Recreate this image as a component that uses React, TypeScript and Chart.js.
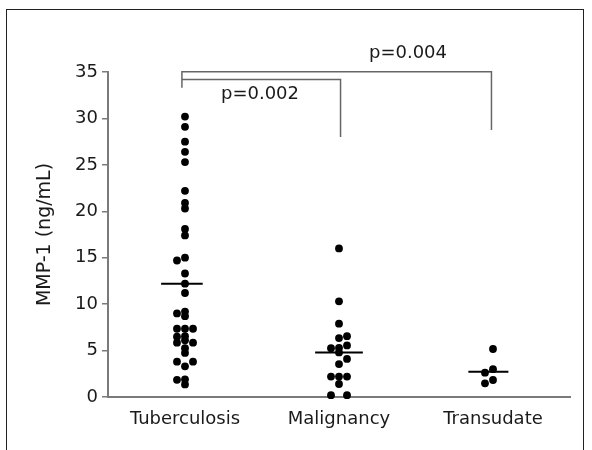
import React, { useEffect, useRef } from "react";
import { Chart, registerables } from "chart.js";

Chart.register(...registerables);

// ---- data ----
const categories = ["Tuberculosis", "Malignancy", "Transudate"];

const tuberculosisValues = [
  30.2, 29.1, 27.5, 26.4, 25.3, 22.2, 20.9, 20.3, 18.1, 17.4, 15.0, 14.7, 13.3,
  12.2, 11.2, 9.2, 8.7, 9.0, 7.35, 7.35, 7.35, 6.5, 6.55, 6.1, 5.85, 5.85, 5.25,
  4.75, 3.8, 3.8, 3.3, 1.85, 1.9, 1.35,
];
const tuberculosisSlots = [
  0, 0, 0, 0, 0, 0, 0, 0, 0, 0, 0, -1, 0, 0, 0, 0, 0, -1, -1, 0, 1, -1, 0, 0, -1,
  1, 0, 0, -1, 1, 0, -1, 0, 0,
];

const malignancyValues = [
  16.0, 10.3, 7.9, 6.55, 6.35, 5.55, 5.25, 5.3, 4.8, 4.1, 3.55, 2.2, 2.2, 2.2,
  1.4, 0.2, 0.2,
];
const malignancySlots = [0, 0, 0, 1, 0, 1, -1, 0, 0, 1, 0, -1, 0, 1, 0, -1, 1];

const transudateValues = [5.17, 3.0, 2.62, 1.83, 1.47];
const transudateSlots = [0, 0, -1, 0, -1];

const meanValues = [12.2, 4.8, 2.73];

const yTickMin = 0;
const yTickMax = 35;
const yTickStep = 5;

const pValueLabels = ["p=0.004", "p=0.002"];

// ---- layout helpers (positions in data units) ----
const slotWidth = 0.052;
const meanLineStart = [-0.155, -0.155, -0.16];
const meanLineEnd = [0.115, 0.155, 0.1];
const bracketOuter = [
  { x: 0.98, y: 33.3 },
  { x: 0.98, y: 35.03 },
  { x: 2.99, y: 35.03 },
  { x: 2.99, y: 28.75 },
];
const bracketInner = [
  { x: 0.98, y: 34.2 },
  { x: 2.01, y: 34.2 },
  { x: 2.01, y: 28.0 },
];
const pLabelPos = [
  { x: 2.448, y: 37.05 },
  { x: 1.487, y: 32.55 },
];

const FONT = "'DejaVu Sans', 'Liberation Sans', sans-serif";
const TEXT = "#1a1a1a";
const AXIS = "#7a7a7a";

const groups = [
  { values: tuberculosisValues, slots: tuberculosisSlots },
  { values: malignancyValues, slots: malignancySlots },
  { values: transudateValues, slots: transudateSlots },
];

export default function App() {
  const ref = useRef<HTMLCanvasElement | null>(null);

  useEffect(() => {
    if (!ref.current) return;

    const dots: { x: number; y: number }[] = [];
    groups.forEach((g, gi) => {
      g.values.forEach((v, i) => {
        dots.push({ x: gi + 1 + (g.slots[i] || 0) * slotWidth, y: v });
      });
    });

    const meanSets = meanValues.map((m, i) => ({
      type: "line" as const,
      data: [
        { x: i + 1 + meanLineStart[i], y: m },
        { x: i + 1 + meanLineEnd[i], y: m },
      ],
      showLine: true,
      borderColor: "#000",
      borderWidth: 2,
      pointRadius: 0,
      clip: false as any,
    }));

    const pLabelPlugin = {
      id: "pLabels",
      afterDatasetsDraw(chart: any) {
        const { ctx, scales } = chart;
        ctx.save();
        ctx.font = `18px ${FONT}`;
        ctx.fillStyle = TEXT;
        ctx.textAlign = "center";
        ctx.textBaseline = "middle";
        pValueLabels.forEach((t, i) => {
          ctx.fillText(
            t,
            scales.x.getPixelForValue(pLabelPos[i].x),
            scales.y.getPixelForValue(pLabelPos[i].y)
          );
        });
        ctx.restore();
      },
    };

    const chart = new Chart(ref.current, {
      type: "scatter",
      data: {
        datasets: [
          {
            data: dots,
            backgroundColor: "#000",
            borderWidth: 0,
            pointRadius: 3.9,
            clip: false as any,
          },
          ...meanSets,
          {
            type: "line",
            data: bracketOuter,
            showLine: true,
            borderColor: "#666",
            borderWidth: 1.5,
            pointRadius: 0,
            clip: false as any,
          },
          {
            type: "line",
            data: bracketInner,
            showLine: true,
            borderColor: "#666",
            borderWidth: 1.5,
            pointRadius: 0,
            clip: false as any,
          },
        ] as any,
      },
      options: {
        animation: false,
        responsive: false,
        events: [],
        layout: { padding: { left: 0, top: 72, right: 22, bottom: 0 } },
        plugins: {
          legend: { display: false },
          tooltip: { enabled: false },
        },
        scales: {
          x: {
            type: "linear",
            min: 0.5,
            max: 3.5,
            afterBuildTicks: (s: any) => {
              s.ticks = categories.map((_, i) => ({ value: i + 1 }));
            },
            afterFit: (s: any) => {
              s.height = 53;
            },
            ticks: {
              callback: (v: any) => categories[Math.round(Number(v)) - 1] ?? "",
              font: { family: FONT, size: 18 },
              color: TEXT,
              padding: 12,
              autoSkip: false,
              maxRotation: 0,
            },
            grid: { display: false, drawTicks: false },
            border: { display: true, color: AXIS, width: 2 },
          },
          y: {
            min: yTickMin,
            max: yTickMax,
            afterFit: (s: any) => {
              s.width = 108;
            },
            ticks: {
              stepSize: yTickStep,
              font: { family: FONT, size: 18 },
              color: TEXT,
              padding: 4,
            },
            grid: {
              drawOnChartArea: false,
              drawTicks: true,
              tickLength: 6,
              color: AXIS,
              lineWidth: 1.5,
            },
            border: { display: true, color: AXIS, width: 2 },
            title: {
              display: true,
              text: "MMP-1 (ng/mL)",
              font: { family: FONT, size: 19 },
              color: TEXT,
              padding: { top: 33.6, bottom: 0 },
            },
          },
        },
      } as any,
      plugins: [pLabelPlugin],
    });

    return () => chart.destroy();
  }, []);

  return (
    <div
      style={{
        position: "fixed",
        left: 0,
        top: 0,
        width: 592,
        height: 450,
        overflow: "hidden",
        background: "#fff",
      }}
    >
      <canvas
        ref={ref}
        width={592}
        height={450}
        style={{ position: "absolute", left: 0, top: 0, width: 592, height: 450 }}
      />
      <div
        style={{
          position: "absolute",
          left: 6,
          top: 9,
          width: 578,
          height: 460,
          boxSizing: "border-box",
          borderLeft: "1.5px solid #222",
          borderTop: "1.5px solid #222",
          borderRight: "1.5px solid #222",
          pointerEvents: "none",
        }}
      />
    </div>
  );
}
